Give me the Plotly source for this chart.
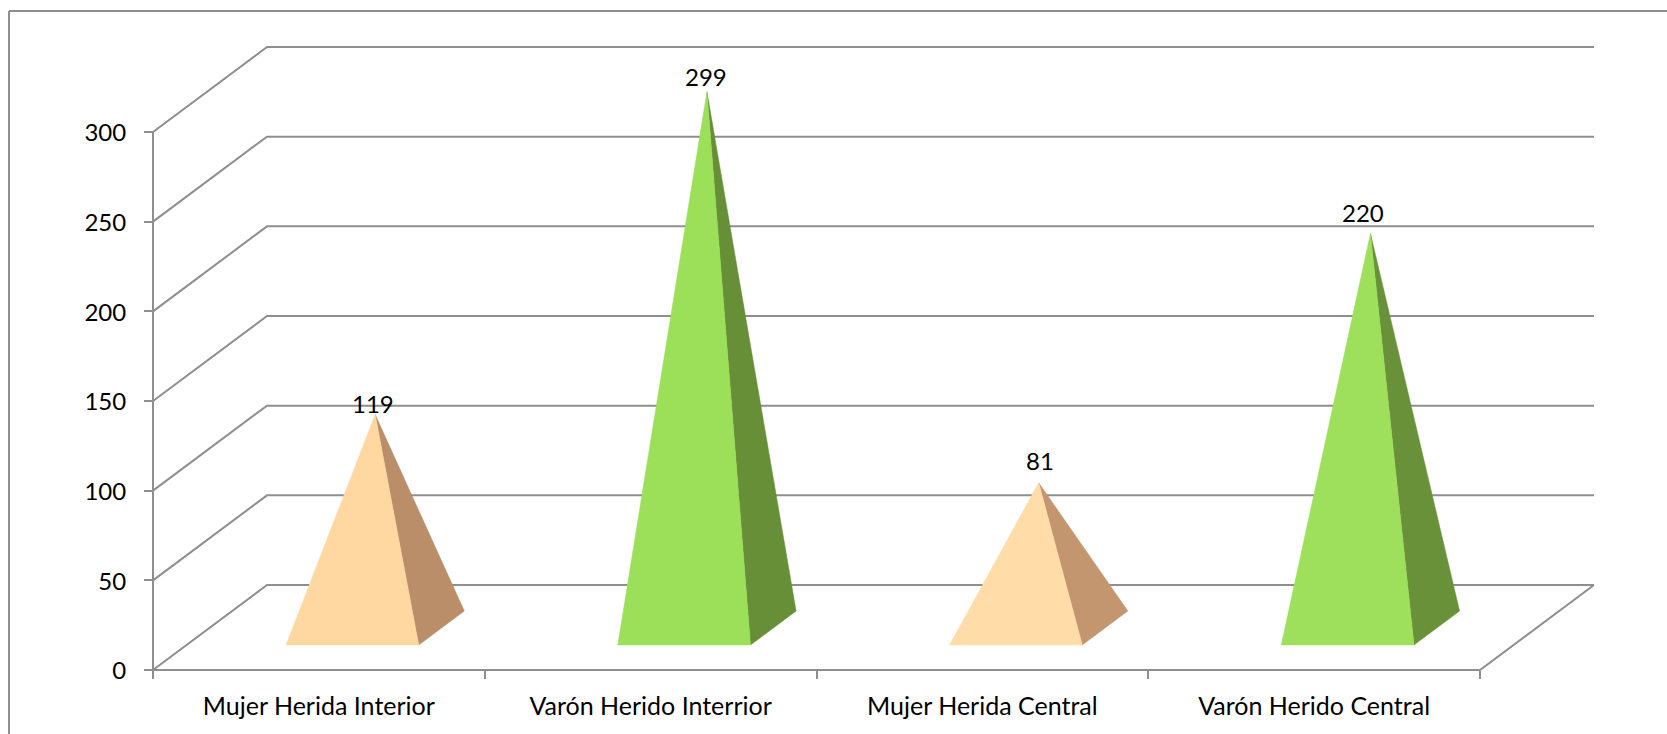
import plotly.graph_objects as go

# ---- data ----
categories = ["Mujer Herida Interior", "Varón Herido Interrior", "Mujer Herida Central", "Varón Herido Central"]
values = [119, 299, 81, 220]
y_ticks = [0, 50, 100, 150, 200, 250, 300]

# ---- styles ----
front_colors = ["#FFD7A1", "#9CDF58", "#FFDCA8", "#9EE05B"]
side_colors = ["#B98E69", "#678F37", "#C49670", "#699139"]
label_dx = [-2, -1, 1, -7]
label_dy = [11, 15, 22, 21]
GREY = "#8E8E8E"
FONT = "Lato"
FS = 25
FS_NUM = 24
LW = 2

# ---- layout geometry (page px) ----
W, H = 1667, 734
X0, Y0 = 153, 670          # front-left corner of the floor
CAT_W = 331.75             # px per category
VAL_H = 538 / 300          # px per value unit
DX = 114 / CAT_W           # depth offset in category units
DY = 85 / VAL_H            # depth offset in value units
D0, D1 = 0.294, 0.694      # pyramid base depth span
HALF = 0.2                 # pyramid base half width
n = len(categories)
top = max(y_ticks)

fig = go.Figure()

def line(xs, ys, width=LW):
    fig.add_trace(go.Scatter(x=xs, y=ys, mode="lines", line=dict(color=GREY, width=width),
                             hoverinfo="skip", showlegend=False))

# walls and floor
for t in y_ticks:
    line([0, DX, n + DX], [t, t + DY, t + DY])
line([0, 0], [0, top])
line([0, n, n + DX], [0, 0, DY])

def pt(c, v, d):
    return c + d * DX, v + d * DY

for i, v in enumerate(values):
    c = i + 0.5
    apex = pt(c, v, (D0 + D1) / 2)
    fl = pt(c - HALF, 0, D0)
    fr = pt(c + HALF, 0, D0)
    br = pt(c + HALF, 0, D1)
    for poly, col in (((fr, br, apex), side_colors[i]), ((fl, fr, apex), front_colors[i])):
        fig.add_trace(go.Scatter(x=[p[0] for p in poly] + [poly[0][0]],
                                 y=[p[1] for p in poly] + [poly[0][1]],
                                 mode="lines", fill="toself", fillcolor=col,
                                 line=dict(color=col, width=0.5),
                                 hoverinfo="skip", showlegend=False))
    fig.add_annotation(x=apex[0], y=apex[1], text=str(v), showarrow=False,
                       xref="x", yref="y", xshift=label_dx[i], yshift=label_dy[i],
                       font=dict(family=FONT, size=FS_NUM, color="#000000"))

fig.update_layout(
    width=W, height=H, margin=dict(l=0, r=0, t=0, b=0),
    paper_bgcolor="white", plot_bgcolor="rgba(0,0,0,0)",
    font=dict(family=FONT, size=FS, color="#000000"),
    xaxis=dict(range=[-X0 / CAT_W, (W - X0) / CAT_W], domain=[0, 1], anchor="free",
               position=1 - Y0 / H, showgrid=False, zeroline=False, showline=False,
               tickmode="array", tickvals=[i + 0.5 for i in range(n)], ticktext=categories,
               ticks="outside", ticklen=0, ticklabelstandoff=14,
               minor=dict(tickmode="array", tickvals=list(range(n + 1)), ticks="outside",
                          ticklen=8, tickwidth=LW, tickcolor=GREY, showgrid=False)),
    yaxis=dict(range=[(Y0 - H) / VAL_H, Y0 / VAL_H], domain=[0, 1], anchor="free",
               position=X0 / W, showgrid=False, zeroline=False, showline=False,
               tickmode="array", tickvals=y_ticks, ticks="outside", ticklen=9,
               tickwidth=LW, tickcolor=GREY, ticklabelstandoff=13, ticklabelshift=1,
               tickfont=dict(family=FONT, size=FS_NUM, color="#000000")),
    shapes=[
        dict(type="line", xref="paper", yref="paper", x0=9 / W, x1=1, y0=1 - 11 / H, y1=1 - 11 / H,
             line=dict(color=GREY, width=LW)),
        dict(type="line", xref="paper", yref="paper", x0=9 / W, x1=9 / W, y0=0, y1=1 - 11 / H,
             line=dict(color=GREY, width=LW)),
    ],
)

fig.write_html("out.html", config=dict(displayModeBar=False),
               post_script="document.body.style.margin='0';document.documentElement.style.overflow='hidden';")
